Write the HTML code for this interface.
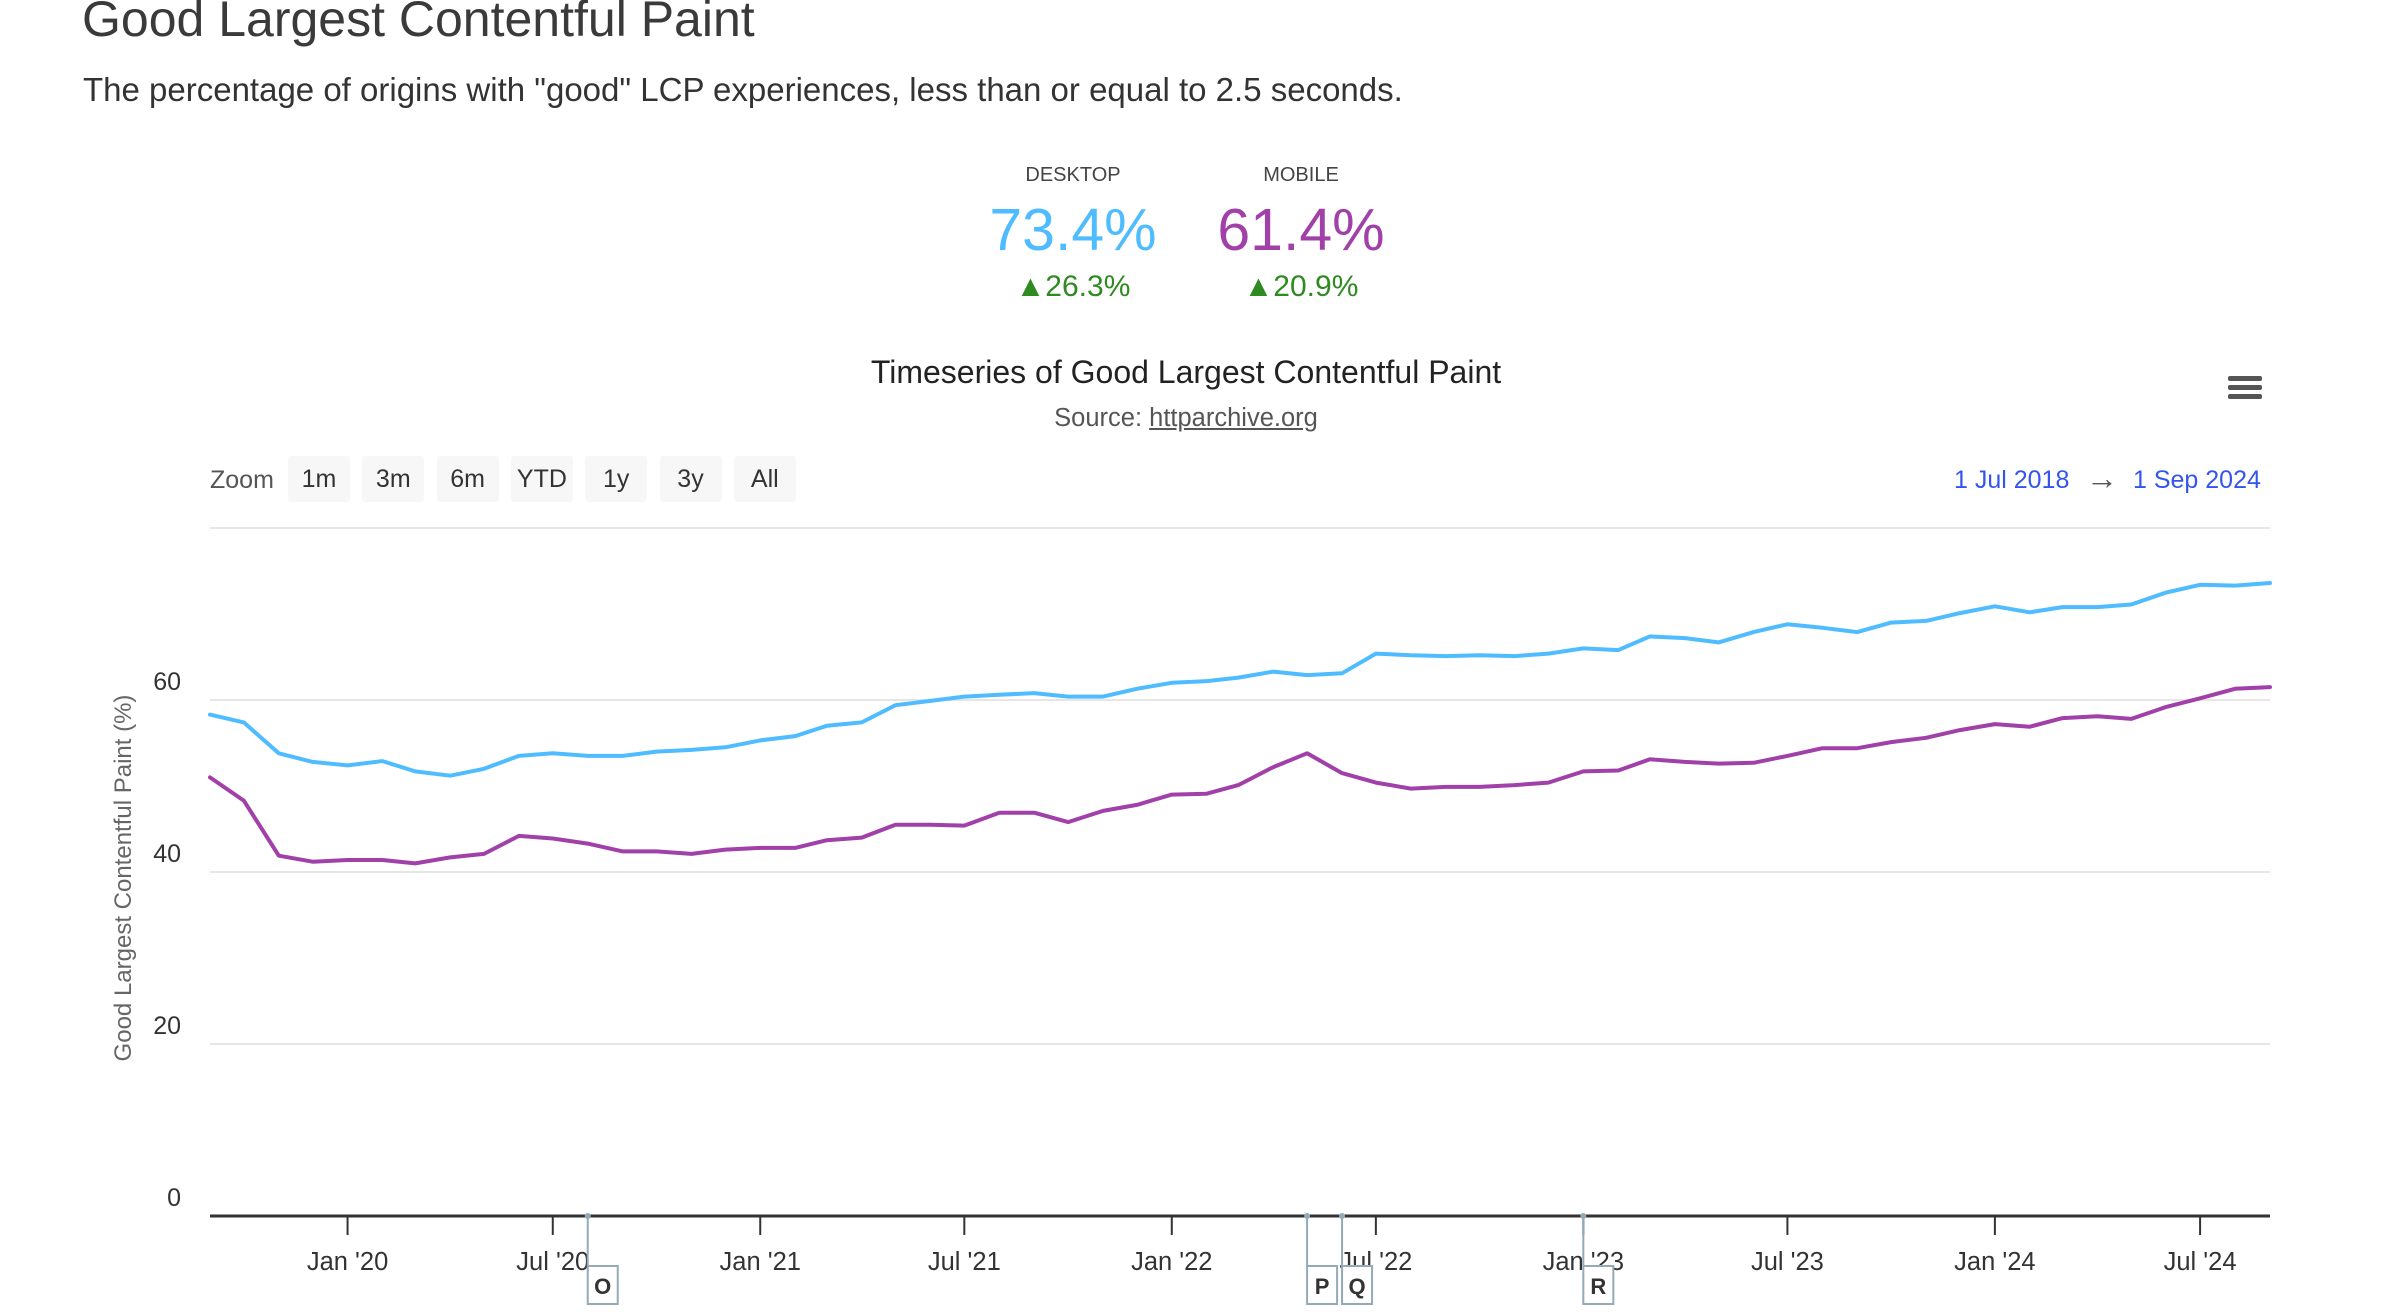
<!DOCTYPE html>
<html><head><meta charset="utf-8">
<style>
html,body{margin:0;padding:0;background:#fff;width:2398px;height:1314px;overflow:hidden;font-family:"Liberation Sans",sans-serif;}
.abs{position:absolute;white-space:nowrap;}
</style></head>
<body>
<div class="abs" style="left:82px;top:-10px;font-size:50px;color:#3a3a3a;">Good Largest Contentful Paint</div>
<div class="abs" style="left:83px;top:71px;font-size:33px;color:#333;">The percentage of origins with "good" LCP experiences, less than or equal to 2.5 seconds.</div>

<div class="abs" style="left:973px;width:200px;text-align:center;top:164px;font-size:20px;color:#444;">DESKTOP</div>
<div class="abs" style="left:1201px;width:200px;text-align:center;top:164px;font-size:20px;color:#444;">MOBILE</div>
<div class="abs" style="left:973px;width:200px;text-align:center;top:196px;font-size:59px;color:#4fbcff;">73.4%</div>
<div class="abs" style="left:1201px;width:200px;text-align:center;top:196px;font-size:59px;color:#a040a8;">61.4%</div>
<div class="abs" style="left:973px;width:200px;text-align:center;top:270px;font-size:30px;color:#2f8a22;">▲26.3%</div>
<div class="abs" style="left:1201px;width:200px;text-align:center;top:270px;font-size:30px;color:#2f8a22;">▲20.9%</div>

<div class="abs" style="left:836px;width:700px;text-align:center;top:354px;font-size:32px;color:#222;">Timeseries of Good Largest Contentful Paint</div>
<div class="abs" style="left:986px;width:400px;text-align:center;top:404px;font-size:25.5px;color:#555;">Source: <span style="text-decoration:underline;">httparchive.org</span></div>

<div class="abs" style="left:2228px;top:376px;width:34px;height:26px;">
  <div style="height:5px;background:#555;border-radius:2px;margin-bottom:4px;"></div>
  <div style="height:5px;background:#555;border-radius:2px;margin-bottom:4px;"></div>
  <div style="height:5px;background:#555;border-radius:2px;"></div>
</div>

<div class="abs" style="left:210px;top:466px;font-size:25px;color:#555;">Zoom</div>
<div id="zoombtns"></div>

<div class="abs" style="left:1954px;top:466px;font-size:25px;color:#3355ee;">1 Jul 2018</div>
<div class="abs" style="left:2086px;top:460px;font-size:32px;color:#555;">→</div>
<div class="abs" style="left:2133px;top:466px;font-size:25px;color:#3355ee;">1 Sep 2024</div>

<svg id="chart" width="2398" height="1314" style="position:absolute;left:0;top:0;"></svg>

<script>
const desktop=[58.3,57.4,53.8,52.8,52.4,52.9,51.7,51.2,52.0,53.5,53.8,53.5,53.5,54.0,54.2,54.5,55.3,55.8,57.0,57.4,59.4,59.9,60.4,60.6,60.8,60.4,60.4,61.3,62.0,62.2,62.6,63.3,62.9,63.1,65.4,65.2,65.1,65.2,65.1,65.4,66.0,65.8,67.4,67.2,66.7,67.9,68.8,68.4,67.9,69.0,69.2,70.1,70.9,70.2,70.8,70.8,71.1,72.5,73.4,73.3,73.6];
const mobile=[51.0,48.3,41.9,41.2,41.4,41.4,41.0,41.7,42.1,44.2,43.9,43.3,42.4,42.4,42.1,42.6,42.8,42.8,43.7,44.0,45.5,45.5,45.4,46.9,46.9,45.8,47.1,47.8,49.0,49.1,50.1,52.2,53.8,51.5,50.4,49.7,49.9,49.9,50.1,50.4,51.7,51.8,53.1,52.8,52.6,52.7,53.5,54.4,54.4,55.1,55.6,56.5,57.2,56.9,57.9,58.1,57.8,59.2,60.2,61.3,61.5];
const startYear=2019, startMonth=8; // Sep 2019 (0-based month)
const yTicks=[0,20,40,60,80];
const xTickLabels=["Jan '20","Jul '20","Jan '21","Jul '21","Jan '22","Jul '22","Jan '23","Jul '23","Jan '24","Jul '24"];
const xTickDates=[[2020,0],[2020,6],[2021,0],[2021,6],[2022,0],[2022,6],[2023,0],[2023,6],[2024,0],[2024,6]];
const flagLabels=["O","P","Q","R"];
const flagDates=[[2020,7],[2022,4],[2022,5],[2023,0]];
const zoomLabels=["1m","3m","6m","YTD","1y","3y","All"];

const L=210,R=2270,T=528,B=1216;
const t0=Date.UTC(2019,8,1), t1=Date.UTC(2024,8,1);
function xd(y,m){return L+(Date.UTC(y,m,1)-t0)/(t1-t0)*(R-L);}
function xi(i){const m=startMonth+i;return xd(startYear+Math.floor(m/12),m%12);}
function yv(v){return B-(v/80)*(B-T);}

const NS="http://www.w3.org/2000/svg";
const svg=document.getElementById('chart');
function mk(tag,attrs,parent){const e=document.createElementNS(NS,tag);for(const k in attrs)e.setAttribute(k,attrs[k]);(parent||svg).appendChild(e);return e;}

yTicks.forEach(v=>{
  if(v>0){const g=mk('line',{x1:L,x2:R,y1:yv(v),y2:yv(v),stroke:'#e6e6e6','stroke-width':2});
  
  }
  if(v<80){
  const t=mk('text',{x:181,y:yv(v)-10,'text-anchor':'end','font-size':25,fill:'#333','font-family':'Liberation Sans, sans-serif'});
  t.textContent=v;
  
  }
});
const yt=mk('text',{x:0,y:0,transform:'translate(131,878) rotate(-90)','text-anchor':'middle','font-size':24,fill:'#666','font-family':'Liberation Sans, sans-serif'});
yt.textContent='Good Largest Contentful Paint (%)';



const ax=mk('line',{x1:L,x2:R,y1:B,y2:B,stroke:'#333','stroke-width':3});


xTickDates.forEach((d,i)=>{
  const x=xd(d[0],d[1]);
  const tk=mk('line',{x1:x,x2:x,y1:B,y2:B+19,stroke:'#333','stroke-width':2});
  
  
  const t=mk('text',{x:x,y:1270,'text-anchor':'middle','font-size':25.5,fill:'#333','font-family':'Liberation Sans, sans-serif'});
  t.textContent=xTickLabels[i];
  
  
});

function series(data,color,name){
  const pts=data.map((v,i)=>xi(i).toFixed(1)+','+yv(v).toFixed(1)).join(' ');
  const p=mk('polyline',{points:pts,fill:'none',stroke:color,'stroke-width':4,'stroke-linejoin':'round','stroke-linecap':'round'});
  
  
}
series(desktop,'#4fbcff','desktop-line');
series(mobile,'#a040a8','mobile-line');

flagDates.forEach((d,i)=>{
  const x=xd(d[0],d[1]);
  const g=mk('g',{});
  
  
  mk('line',{x1:x,x2:x,y1:B,y2:1266,stroke:'#94aab8','stroke-width':2},g);
  mk('circle',{cx:x,cy:B,r:3,fill:'#94aab8'},g);
  mk('rect',{x:x,y:1266,width:30,height:38,fill:'#fff',stroke:'#94aab8','stroke-width':2},g);
  const t=mk('text',{x:x+15,y:1294,'text-anchor':'middle','font-size':22,'font-weight':'bold',fill:'#333','font-family':'Liberation Sans, sans-serif'},g);
  t.textContent=flagLabels[i];
});

const zb=document.getElementById('zoombtns');
zoomLabels.forEach((lab,i)=>{
  const b=document.createElement('div');
  b.className='abs';
  
  
  b.style.cssText='left:'+(288+i*74.3)+'px;top:456px;width:62px;height:46px;line-height:46px;text-align:center;background:#f7f7f7;border-radius:3px;font-size:25px;color:#333;';
  b.textContent=lab;
  zb.appendChild(b);
});
</script>
</body></html>
